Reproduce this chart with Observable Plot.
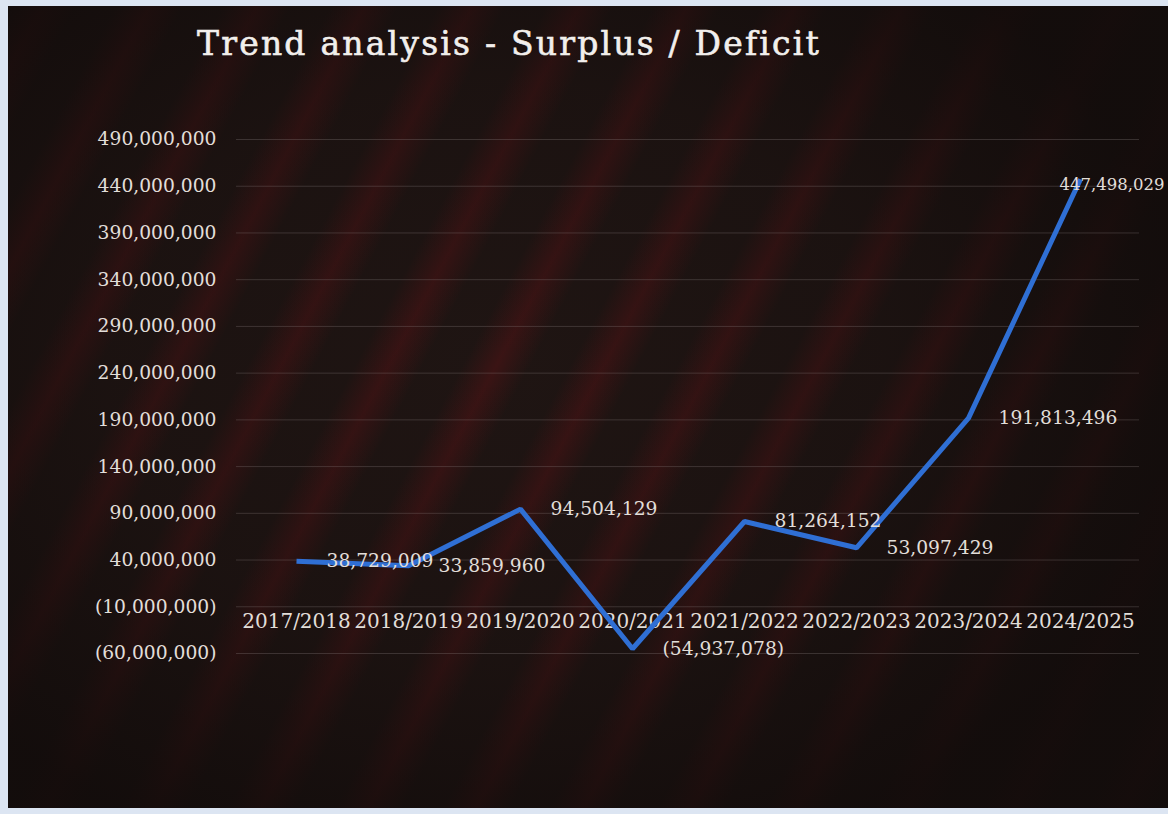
<!DOCTYPE html>
<html>
<head>
<meta charset="utf-8">
<script src="https://cdn.jsdelivr.net/npm/d3@7"></script>
<script src="https://cdn.jsdelivr.net/npm/@observablehq/plot@0.6"></script>
<style>
  html, body { margin: 0; padding: 0; background: #dce5f2; width: 1168px; height: 814px; overflow: hidden; }
  #panel {
    position: absolute; left: 8px; top: 6px; width: 1160px; height: 802px; overflow: hidden;
    background:
      radial-gradient(ellipse 60% 65% at 42% 45%, rgba(20,13,12,0) 0%, rgba(20,13,12,0.35) 55%, rgba(18,12,11,0.92) 100%),
      repeating-linear-gradient(118deg, rgba(100,18,22,0) 0px, rgba(100,18,22,0.4) 30px, rgba(100,18,22,0) 60px, rgba(100,18,22,0) 95px),
      linear-gradient(#1f1513, #1f1513);
  }
  #title {
    position: absolute; left: 189px; top: 18px; white-space: nowrap;
    font-family: "DejaVu Serif", serif; font-size: 33px; color: #f2efec; letter-spacing: 2.2px;
    -webkit-text-stroke: 0.6px #f2efec;
  }
  #chart { position: absolute; left: 0; top: 94px; }
</style>
</head>
<body>
<div id="panel">
  <div id="title">Trend analysis - Surplus / Deficit</div>
  <div id="chart"></div>
</div>
<script>
const categories = ["2017/2018","2018/2019","2019/2020","2020/2021","2021/2022","2022/2023","2023/2024","2024/2025"];
const values = [38729009, 33859960, 94504129, -54937078, 81264152, 53097429, 191813496, 447498029];
const yTicks = [-60000000, -10000000, 40000000, 90000000, 140000000, 190000000, 240000000, 290000000, 340000000, 390000000, 440000000, 490000000];

const data = categories.map((c, i) => ({cat: c, value: values[i]}));
const fmtNum = d3.format(",");
const fmt = v => v < 0 ? "(" + fmtNum(-v) + ")" : fmtNum(v);
const textColor = "#e2ded9";
const font = "DejaVu Serif, serif";

const chart = Plot.plot({
  width: 1160,
  height: 708,
  marginTop: 39,
  marginBottom: 155,
  marginLeft: 228,
  marginRight: 29,
  style: {background: "transparent", fontFamily: font, fontSize: "18.7px", color: textColor, overflow: "visible"},
  x: {type: "point", domain: categories, padding: 0.5, axis: null},
  y: {domain: [-60000000, 490000000], axis: null},
  marks: [
    Plot.gridY(yTicks, {stroke: "#8a8080", strokeOpacity: 0.3, strokeWidth: 1}),
    Plot.axisY(yTicks, {tickSize: 0, tickPadding: 20, tickFormat: fmt, fill: textColor, fontSize: 18.7, label: null}),
    Plot.text(categories, {x: d => d, y: () => 0, dy: 24, fill: textColor, fontSize: 20, fontFamily: font}),
    Plot.line(data, {x: "cat", y: "value", stroke: "#2f6fd4", strokeWidth: 5, strokeLinejoin: "miter", strokeLinecap: "butt"}),
    Plot.text(data, {filter: (d, i) => i < values.length - 1, x: "cat", y: "value", text: d => fmt(d.value), dx: 30, textAnchor: "start", fill: textColor, fontSize: 18.7, fontFamily: font}),
    Plot.text(data, {filter: (d, i) => i === values.length - 1, x: "cat", y: "value", text: d => fmt(d.value), dx: -21, dy: 5, textAnchor: "start", fill: textColor, fontSize: 16.5, fontFamily: font})
  ]
});
document.getElementById("chart").appendChild(chart);
</script>
</body>
</html>
